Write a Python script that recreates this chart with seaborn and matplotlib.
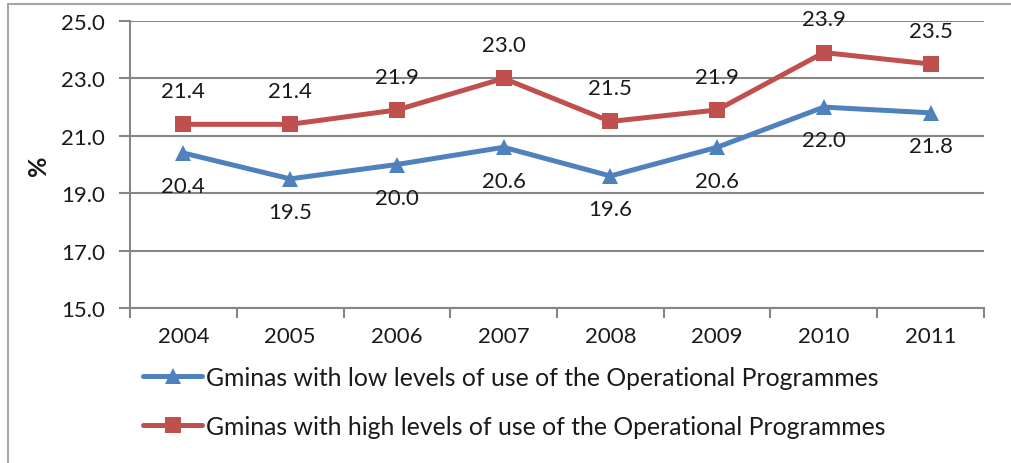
import matplotlib
matplotlib.use("Agg")
import matplotlib.pyplot as plt
import seaborn as sns
import pandas as pd
from matplotlib.lines import Line2D
from matplotlib.ticker import FixedLocator

years = ["2004", "2005", "2006", "2007", "2008", "2009", "2010", "2011"]
low_use = [20.4, 19.5, 20.0, 20.6, 19.6, 20.6, 22.0, 21.8]
high_use = [21.4, 21.4, 21.9, 23.0, 21.5, 21.9, 23.9, 23.5]
series_names = ["Gminas with low levels of use of the Operational Programmes",
                "Gminas with high levels of use of the Operational Programmes"]
yticks = [15.0, 17.0, 19.0, 21.0, 23.0, 25.0]

sns.set_theme(style="white")
plt.rcParams['font.family'] = ['Lato', 'DejaVu Sans']

blue = "#4F81BD"
red = "#C0504D"
grid_c = "#868686"
FS = 16

df = pd.DataFrame({
    "x": list(range(len(years))) * 2,
    "value": low_use + high_use,
    "series": [series_names[0]] * len(years) + [series_names[1]] * len(years),
})

fig = plt.figure(figsize=(10.12, 4.64), dpi=100)
ax = fig.add_axes([130/1012, 1 - 309/464, (984-130)/1012, (309-22)/464])

sns.lineplot(data=df, x="x", y="value", hue="series", style="series",
             palette=[blue, red], markers=["^", "s"], dashes=False,
             linewidth=3.6, markersize=11, markeredgewidth=0, ax=ax, legend=False)

ax.set_xlim(-0.5, len(years) - 0.5)
ax.set_ylim(15, 25)
ax.set_yticks(yticks)
ax.set_yticklabels([f"{v:.1f}" for v in yticks], fontsize=FS, color="#1a1a1a")
ax.set_xticks(range(len(years)))
ax.set_xticklabels(years, fontsize=FS, color="#1a1a1a")
ax.xaxis.set_minor_locator(FixedLocator([i - 0.5 for i in range(len(years) + 1)]))
ax.tick_params(axis="x", which="major", length=0, pad=13, bottom=True)
ax.tick_params(axis="x", which="minor", length=7, width=1.5, color=grid_c,
               direction="out", bottom=True)
ax.tick_params(axis="y", which="major", length=8, width=1.5, color=grid_c,
               direction="out", pad=10, left=True)
ax.set_xlabel("")
ax.set_ylabel("%", fontsize=18, fontweight="bold", labelpad=8, color="#1a1a1a")

ax.yaxis.grid(True, color=grid_c, linewidth=1.5)
ax.set_axisbelow(True)
for s in ["top", "right"]:
    ax.spines[s].set_visible(False)
for s in ["left", "bottom"]:
    ax.spines[s].set_color(grid_c)
    ax.spines[s].set_linewidth(1.5)

for i, v in enumerate(high_use):
    ax.annotate(f"{v:.1f}", (i, v), xytext=(0, 24), textcoords="offset points",
                ha="center", va="center", fontsize=FS, color="#1a1a1a")
for i, v in enumerate(low_use):
    ax.annotate(f"{v:.1f}", (i, v), xytext=(0, -24), textcoords="offset points",
                ha="center", va="center", fontsize=FS, color="#1a1a1a")

handles = [Line2D([], [], color=blue, lw=3.6, marker="^", markersize=11, markeredgewidth=0),
           Line2D([], [], color=red, lw=3.6, marker="s", markersize=11, markeredgewidth=0)]
fig.legend(handles, series_names, loc="upper left", bbox_to_anchor=(143/1012, 1 - 367/464),
           frameon=False, fontsize=17.8, handlelength=2.4, handletextpad=0.15,
           labelspacing=1.05, borderpad=0, borderaxespad=0, labelcolor="#1a1a1a")

# outer frame (top and left edges visible)
fig.add_artist(Line2D([8/1012, 1.0], [1 - 5/464, 1 - 5/464], transform=fig.transFigure,
                      color="#A6A6A6", lw=1.5))
fig.add_artist(Line2D([8/1012, 8/1012], [0.0, 1 - 5/464], transform=fig.transFigure,
                      color="#A6A6A6", lw=1.5))

fig.savefig("out.png", dpi=100)
